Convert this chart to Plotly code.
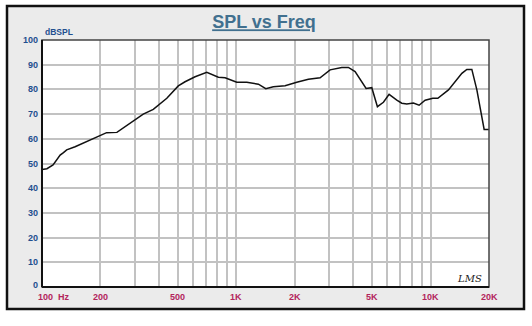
import numpy as np
import plotly.graph_objects as go

# Data
freq = [100, 106, 114, 124, 129, 134, 148, 170, 199, 215, 243, 284, 332, 374, 439, 503,
        545, 614, 705, 809, 876, 1006, 1133, 1300, 1419, 1552, 1784, 2049, 2351, 2701,
        3041, 3494, 3777, 4090, 4341, 4660, 4985, 5329, 5722, 6120, 6706, 7114, 7551,
        8164, 8736, 9380, 10275, 10903, 12370, 13390, 14500, 15380, 16320, 17320, 18880, 20000]
spl = [47.6, 47.9, 49.4, 53.4, 54.4, 55.5, 56.8, 59.0, 61.3, 62.5, 62.6, 66.3, 70.0, 71.9,
       76.4, 81.4, 83.1, 85.1, 86.9, 84.9, 84.7, 82.9, 82.9, 82.1, 80.3, 81.1, 81.5, 82.9,
       84.1, 84.7, 87.9, 88.9, 88.9, 87.2, 84.1, 80.4, 80.7, 73.0, 74.8, 78.0, 75.7, 74.4,
       74.1, 74.5, 73.6, 75.6, 76.4, 76.4, 79.8, 83.1, 86.5, 88.1, 88.1, 79.8, 63.8, 63.8]

x_tick_vals = [100, 200, 500, 1000, 2000, 5000, 10000, 20000]
x_tick_text = ["100  Hz", "200", "500", "1K", "2K", "5K", "10K", "20K"]
x_grid_vals = [200, 300, 400, 500, 600, 700, 800, 900, 1000, 2000, 3000, 4000, 5000,
               6000, 7000, 8000, 9000, 10000]
y_tick_vals = [0, 10, 20, 30, 40, 50, 60, 70, 80, 90, 100]
y_grid_vals = [10, 20, 30, 40, 50, 60, 70, 80, 90]

W, H = 532, 326
L, R, T, B = 42, 489, 40, 287
pw, ph = R - L, B - T

def px(x):
    return (x - L) / pw

def py(y):
    return (B - y) / ph

FONT = "Arial, Liberation Sans, sans-serif"
BLUE = "#1F4F8F"
RED = "#B3245C"

fig = go.Figure()
fig.add_trace(go.Scatter(x=freq, y=spl, mode="lines",
                         line=dict(color="#111111", width=1.5), hoverinfo="skip"))

shapes = [
    dict(type="rect", xref="paper", yref="paper", x0=px(7), x1=px(524), y0=py(309), y1=py(6),
         fillcolor="#EBEBEB", line=dict(color="#111111", width=2.5), layer="below"),
    dict(type="rect", xref="paper", yref="paper", x0=0, x1=1, y0=0, y1=1,
         fillcolor="white", line=dict(width=0), layer="below"),
    dict(type="rect", xref="paper", yref="paper", x0=0, x1=1, y0=0, y1=1,
         line=dict(color="#444444", width=1.5), layer="above"),
    dict(type="line", xref="paper", yref="paper", x0=0, x1=0, y0=0, y1=1,
         line=dict(color="#111111", width=2), layer="above"),
    dict(type="line", xref="paper", yref="paper", x0=0, x1=1, y0=0, y1=0,
         line=dict(color="#111111", width=2), layer="above"),
]

annotations = []
for v, t in zip(x_tick_vals, x_tick_text):
    if v == 100:
        annotations.append(dict(x=np.log10(v), xref="x", y=py(297), yref="paper", text=t,
                                showarrow=False, xanchor="left", xshift=-6, yanchor="middle",
                                font=dict(family=FONT, size=9, color=RED, weight="bold")))
    else:
        annotations.append(dict(x=np.log10(v), xref="x", y=py(297), yref="paper", text=t,
                                showarrow=False, xanchor="center", yanchor="middle",
                                font=dict(family=FONT, size=9, color=RED, weight="bold")))
for v in y_tick_vals:
    annotations.append(dict(x=0, xref="paper", y=v, yref="y", text=str(v), showarrow=False,
                            xanchor="right", xshift=-2, yanchor="middle",
                            yshift=2 if v == 0 else 0,
                            font=dict(family=FONT, size=9, color=BLUE, weight="bold")))
annotations.append(dict(x=px(43), xref="paper", y=py(32), yref="paper", text="dBSPL",
                        showarrow=False, xanchor="left", yanchor="middle",
                        font=dict(family=FONT, size=8.5, color=BLUE, weight="bold")))
annotations.append(dict(x=px(484), xref="paper", y=py(278), yref="paper", text="<i>LMS</i>",
                        showarrow=False, xanchor="right", yanchor="middle",
                        font=dict(family="DejaVu Serif, serif", size=10, color="#222222")))

fig.update_layout(
    width=W, height=H,
    margin=dict(l=L, r=W - R, t=T, b=H - B, pad=0),
    paper_bgcolor="white", plot_bgcolor="white",
    showlegend=False,
    title=dict(text="SPL vs Freq", x=(264) / W, xanchor="center", y=1 - 22 / H, yanchor="middle",
               font=dict(family=FONT, size=18, color="#41708F", weight="bold", lineposition="under")),
    xaxis=dict(type="log", range=[2, np.log10(20000)], tickvals=x_grid_vals, showticklabels=False,
               showgrid=True, gridcolor="#C2C2C2", gridwidth=1.5, zeroline=False, showline=False,
               ticks=""),
    yaxis=dict(range=[0, 100], tickvals=y_grid_vals, showticklabels=False, showgrid=True,
               gridcolor="#C2C2C2", gridwidth=1.5, zeroline=False, showline=False, ticks=""),
    shapes=shapes, annotations=annotations,
)

fig.write_html("out.html")
